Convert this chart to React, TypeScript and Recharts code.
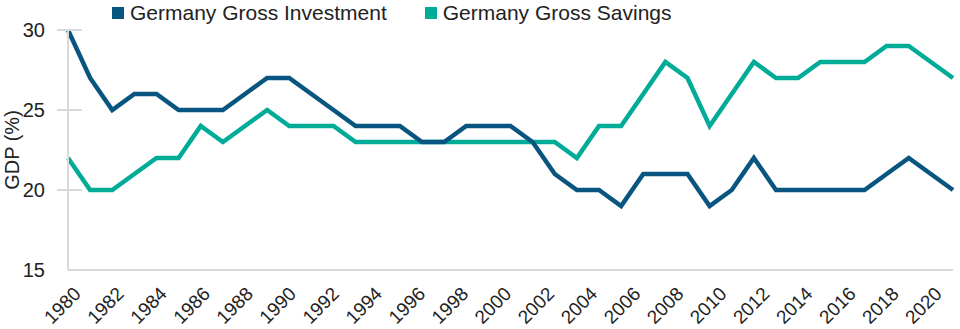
import React from 'react';
import { LineChart, Line, XAxis, YAxis } from 'recharts';

const years = [
  1980, 1981, 1982, 1983, 1984, 1985, 1986, 1987, 1988, 1989,
  1990, 1991, 1992, 1993, 1994, 1995, 1996, 1997, 1998, 1999,
  2000, 2001, 2002, 2003, 2004, 2005, 2006, 2007, 2008, 2009,
  2010, 2011, 2012, 2013, 2014, 2015, 2016, 2017, 2018, 2019, 2020,
];

const investment = [
  30, 27, 25, 26, 26, 25, 25, 25, 26, 27,
  27, 26, 25, 24, 24, 24, 23, 23, 24, 24,
  24, 23, 21, 20, 20, 19, 21, 21, 21, 19,
  20, 22, 20, 20, 20, 20, 20, 21, 22, 21, 20,
];

const savings = [
  22, 20, 20, 21, 22, 22, 24, 23, 24, 25,
  24, 24, 24, 23, 23, 23, 23, 23, 23, 23,
  23, 23, 23, 22, 24, 24, 26, 28, 27, 24,
  26, 28, 27, 27, 28, 28, 28, 29, 29, 28, 27,
];

const yTicks = [15, 20, 25, 30];

const seriesNames = ['Germany Gross Investment', 'Germany Gross Savings'];
const yAxisTitle = 'GDP (%)';
const INVEST_COLOR = '#08557f';
const SAVE_COLOR = '#00ab97';
const FONT = '"Liberation Sans", Arial, sans-serif';

const data = years.map((y, i) => ({ year: y, investment: investment[i], savings: savings[i] }));

const YTick = (props: any) => {
  const { x, y, payload } = props;
  return (
    <g>
      {payload.value !== 15 && (
        <line x1={x - 3} y1={y} x2={x + 22} y2={y} stroke="#d9d9d9" strokeWidth={2} />
      )}
      <text x={x - 15} y={y} dy={7} textAnchor="end" fontSize={20} fontFamily={FONT} fill="#222">
        {payload.value}
      </text>
    </g>
  );
};

const XTick = (props: any) => {
  const { x, y, payload } = props;
  return (
    <text
      x={x}
      y={y + 17}
      textAnchor="end"
      fontSize={19}
      fontFamily={FONT}
      fill="#222"
      transform={`rotate(-45 ${x} ${y + 17})`}
    >
      {payload.value}
    </text>
  );
};

const App: React.FC = () => {
  return (
    <div style={{ position: 'absolute', left: 0, top: 0, width: 960, height: 329, background: '#fff', overflow: 'hidden' }}>
      <LineChart width={960} height={329} data={data} margin={{ top: 30, right: 7, left: 0, bottom: 0 }}>
        <XAxis dataKey="year" hide height={0} />
        <XAxis
          xAxisId="labels"
          dataKey="year"
          height={59}
          interval={1}
          padding={{ left: 14, right: 10 }}
          axisLine={{ stroke: '#d9d9d9', strokeWidth: 2 }}
          tickLine={false}
          tick={<XTick />}
        />
        <YAxis
          width={68}
          domain={[15, 30]}
          ticks={yTicks}
          interval={0}
          axisLine={{ stroke: '#d9d9d9', strokeWidth: 2 }}
          tickLine={false}
          tick={<YTick />}
        />
        <Line
          dataKey="savings"
          name={seriesNames[1]}
          stroke={SAVE_COLOR}
          strokeWidth={4.5}
          dot={false}
          type="linear"
          isAnimationActive={false}
        />
        <Line
          dataKey="investment"
          name={seriesNames[0]}
          stroke={INVEST_COLOR}
          strokeWidth={4.5}
          dot={false}
          type="linear"
          isAnimationActive={false}
        />
      </LineChart>
      <div
        style={{
          position: 'absolute',
          left: 12,
          top: 150,
          transform: 'translate(-50%, -50%) rotate(-90deg)',
          fontFamily: FONT,
          fontSize: 20,
          color: '#222',
          whiteSpace: 'nowrap',
          lineHeight: '22px',
        }}
      >
        {yAxisTitle}
      </div>
      <div style={{ position: 'absolute', top: 0, left: 112, display: 'flex', alignItems: 'center', fontFamily: FONT, fontSize: 21, color: '#222', height: 25 }}>
        <span style={{ width: 12, height: 12, background: INVEST_COLOR, display: 'inline-block', marginRight: 6 }} />
        <span>{seriesNames[0]}</span>
        <span style={{ width: 12, height: 12, background: SAVE_COLOR, display: 'inline-block', marginLeft: 38, marginRight: 6 }} />
        <span>{seriesNames[1]}</span>
      </div>
    </div>
  );
};

export default App;
